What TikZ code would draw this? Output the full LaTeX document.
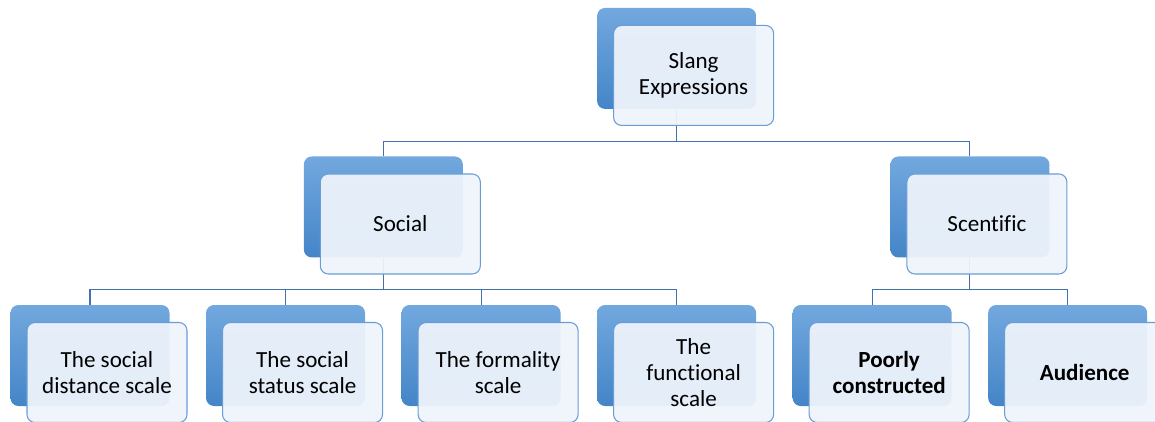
\documentclass[tikz,border=0pt]{standalone}
\usepackage{fontspec}
\setmainfont{Carlito}[Ligatures=NoCommon]
\usepackage{tikz}
\definecolor{backtop}{RGB}{114, 168, 222}
\definecolor{backbottom}{RGB}{68, 133, 200}
\definecolor{frontfill}{RGB}{238, 244, 251}
\definecolor{frontline}{RGB}{105, 157, 214}
\definecolor{linkblue}{RGB}{66, 114, 174}
\usetikzlibrary{positioning, calc, backgrounds}

\begin{document}
\begin{tikzpicture}[
    x=0.75pt, y=-0.75pt,
    back/.style={rectangle, minimum width=119.25pt, minimum height=75.75pt,
                inner sep=0pt, rounded corners=6pt,
                top color=backtop, bottom color=backbottom},
    front/.style={rectangle, draw=frontline, line width=0.8pt, fill=frontfill,
                fill opacity=0.94, text opacity=1,
                minimum width=120pt, minimum height=75pt, align=center,
                rounded corners=6pt, font=\fontsize{17.3pt}{19.5pt}\selectfont},
    boldfront/.style={front, font=\fontsize{17.3pt}{19.5pt}\selectfont\bfseries},
    link/.style={draw=linkblue, line width=0.8pt}
]
    \useasboundingbox (0,0) rectangle (1155,421);

    % back plates
    \node[back] (distance) at (90,355.5) {};
    \node[back, right=27pt of distance] (status) {};
    \node[back, right=27pt of status] (formality) {};
    \node[back, right=27pt of formality] (functional) {};
    \node[back, right=27pt of functional] (poorly) {};
    \node[back, right=27pt of poorly] (audience) {};
    \node[back, above=35.25pt of $(distance.north)!0.5!(functional.north)$] (social) {};
    \node[back, above=35.25pt of $(poorly.north)!0.5!(audience.north)$] (scientific) {};
    \node[back, above=35.25pt of $(social.north)!0.5!(scientific.north)$] (slang) {};

    % front cards
    \node[front] (slang-f) at ($(slang)+(17,17)$) {Slang\\Expressions};
    \node[front] (social-f) at ($(social)+(17,17)$) {Social};
    \node[front] (scientific-f) at ($(scientific)+(17,17)$) {Scentific};
    \node[front] (distance-f) at ($(distance)+(17,17)$) {The social\\distance scale};
    \node[front] (status-f) at ($(status)+(17,17)$) {The social\\status scale};
    \node[front] (formality-f) at ($(formality)+(17,17)$) {The formality\\scale};
    \node[front] (functional-f) at ($(functional)+(17,17)$) {The\\functional\\scale};
    \node[boldfront] (poorly-f) at ($(poorly)+(17,17)$) {Poorly\\constructed};
    \node[boldfront] (audience-f) at ($(audience)+(17,17)$) {Audience};

    \begin{scope}[on background layer]
        \draw[link] (slang) |- ($(social.north)+(0,-15)$) -- (social.north);
        \draw[link] (slang) |- ($(scientific.north)+(0,-15)$) -- (scientific.north);
        \foreach \child in {distance, status, formality, functional}
            \draw[link] (social) |- ($(\child.north)+(0,-15)$) -- (\child.north);
        \foreach \child in {poorly, audience}
            \draw[link] (scientific) |- ($(\child.north)+(0,-15)$) -- (\child.north);
    \end{scope}
\end{tikzpicture}
\end{document}
